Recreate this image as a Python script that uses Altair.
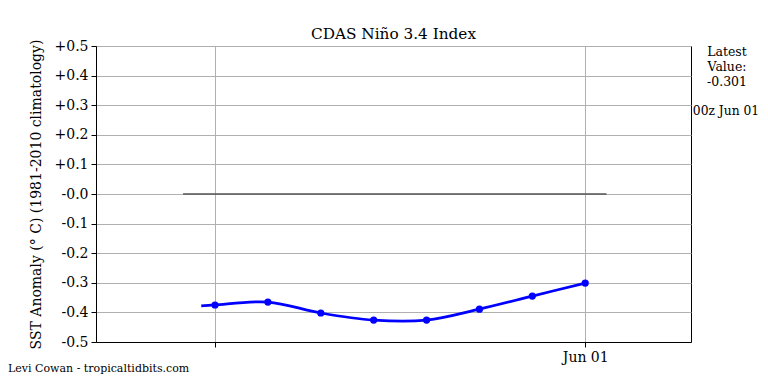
import altair as alt
import pandas as pd

# Daily CDAS Nino 3.4 values
dates = ["2020-05-25T00:00:00Z", "2020-05-26T00:00:00Z", "2020-05-27T00:00:00Z",
         "2020-05-28T00:00:00Z", "2020-05-29T00:00:00Z", "2020-05-30T00:00:00Z",
         "2020-05-31T00:00:00Z", "2020-06-01T00:00:00Z"]
values = [-0.375, -0.365, -0.402, -0.426, -0.426, -0.389, -0.345, -0.301]

# smoothed curve starts slightly before the first point
curve_dates = ["2020-05-24T17:45:00Z"] + dates
curve_values = [-0.378] + values

zero_dates = ["2020-05-24T09:30:00Z", "2020-06-01T09:40:00Z"]
zero_values = [0.0, 0.0]

y_ticks = [-0.5, -0.4, -0.3, -0.2, -0.1, 0.0, 0.1, 0.2, 0.3, 0.4, 0.5]
latest_text = "Latest\nValue:\n-0.301"
time_text = "00z Jun 01"
credit_text = "Levi Cowan - tropicaltidbits.com"

FONT = "DejaVu Serif"

pts = pd.DataFrame({"date": dates, "value": values})
curve = pd.DataFrame({"date": curve_dates, "value": curve_values})
zero = pd.DataFrame({"date": zero_dates, "value": zero_values})

xscale = alt.Scale(type="utc", domain=["2020-05-22T18:00:00Z", "2020-06-03T00:00:00Z"])
yscale = alt.Scale(domain=[-0.5, 0.5], nice=False, zero=False)

xaxis = alt.Axis(
    title=None,
    values=[alt.DateTime(year=2020, month=5, date=25, utc=True),
            alt.DateTime(year=2020, month=6, date=1, utc=True)],
    labelExpr="utcFormat(datum.value, '%d') == '01' ? utcFormat(datum.value, '%b %d') : ''",
    grid=True, gridColor="#b0b0b0", gridWidth=1,
    tickColor="black", tickSize=5, labelPadding=3, labelOverlap=False,
    domainColor="black", labelFont=FONT, labelFontSize=14, labelColor="black",
)
yaxis = alt.Axis(
    title="SST Anomaly (° C) (1981-2010 climatology)",
    values=y_ticks,
    labelExpr="datum.value > 0.001 ? '+' + format(datum.value, '.1f') : '-' + format(abs(datum.value), '.1f')",
    grid=True, gridColor="#b0b0b0", gridWidth=1,
    tickColor="black", tickSize=5, labelPadding=3, labelOverlap=False,
    domainColor="black", labelFont=FONT, labelFontSize=14, labelColor="black",
    titleFont=FONT, titleFontSize=14, titleFontWeight="normal", titleColor="black",
    titlePadding=11,
)

X = alt.X("date:T", scale=xscale, axis=xaxis)
Y = alt.Y("value:Q", scale=yscale, axis=yaxis)

zero_line = alt.Chart(zero).mark_line(color="#555555", strokeWidth=1.6).encode(x=X, y=Y)

line = alt.Chart(curve).mark_line(color="#0000ff", strokeWidth=2.7,
                                  interpolate="catmull-rom").encode(x=X, y=Y)

points = alt.Chart(pts).mark_circle(color="#0000ff", opacity=1, size=52).encode(x=X, y=Y)

latest = alt.Chart(pd.DataFrame({"t": [latest_text]})).mark_text(
    font=FONT, fontSize=12.5, align="center", baseline="middle", lineBreak="\n",
    lineHeight=15, color="black"
).encode(text="t:N", x=alt.value(631), y=alt.value(6))

when = alt.Chart(pd.DataFrame({"t": [time_text]})).mark_text(
    font=FONT, fontSize=12.3, align="center", baseline="middle", color="black"
).encode(text="t:N", x=alt.value(630), y=alt.value(65))

credit = alt.Chart(pd.DataFrame({"t": [credit_text]})).mark_text(
    font=FONT, fontSize=11, align="left", baseline="middle", color="black"
).encode(text="t:N", x=alt.value(-88), y=alt.value(323))

chart = alt.layer(zero_line, line, points, latest, when, credit).properties(
    width=595, height=296,
    title=alt.TitleParams("CDAS Niño 3.4 Index", font=FONT, fontSize=15.3,
                          fontWeight="normal", color="black", offset=7, dy=10),
    autosize=alt.AutoSizeParams(type="none"),
    padding={"left": 88, "top": 38, "right": 69, "bottom": 34},
).configure_view(stroke="black", strokeWidth=1)

chart.save("out.html", embed_options={"renderer": "svg", "actions": False})
